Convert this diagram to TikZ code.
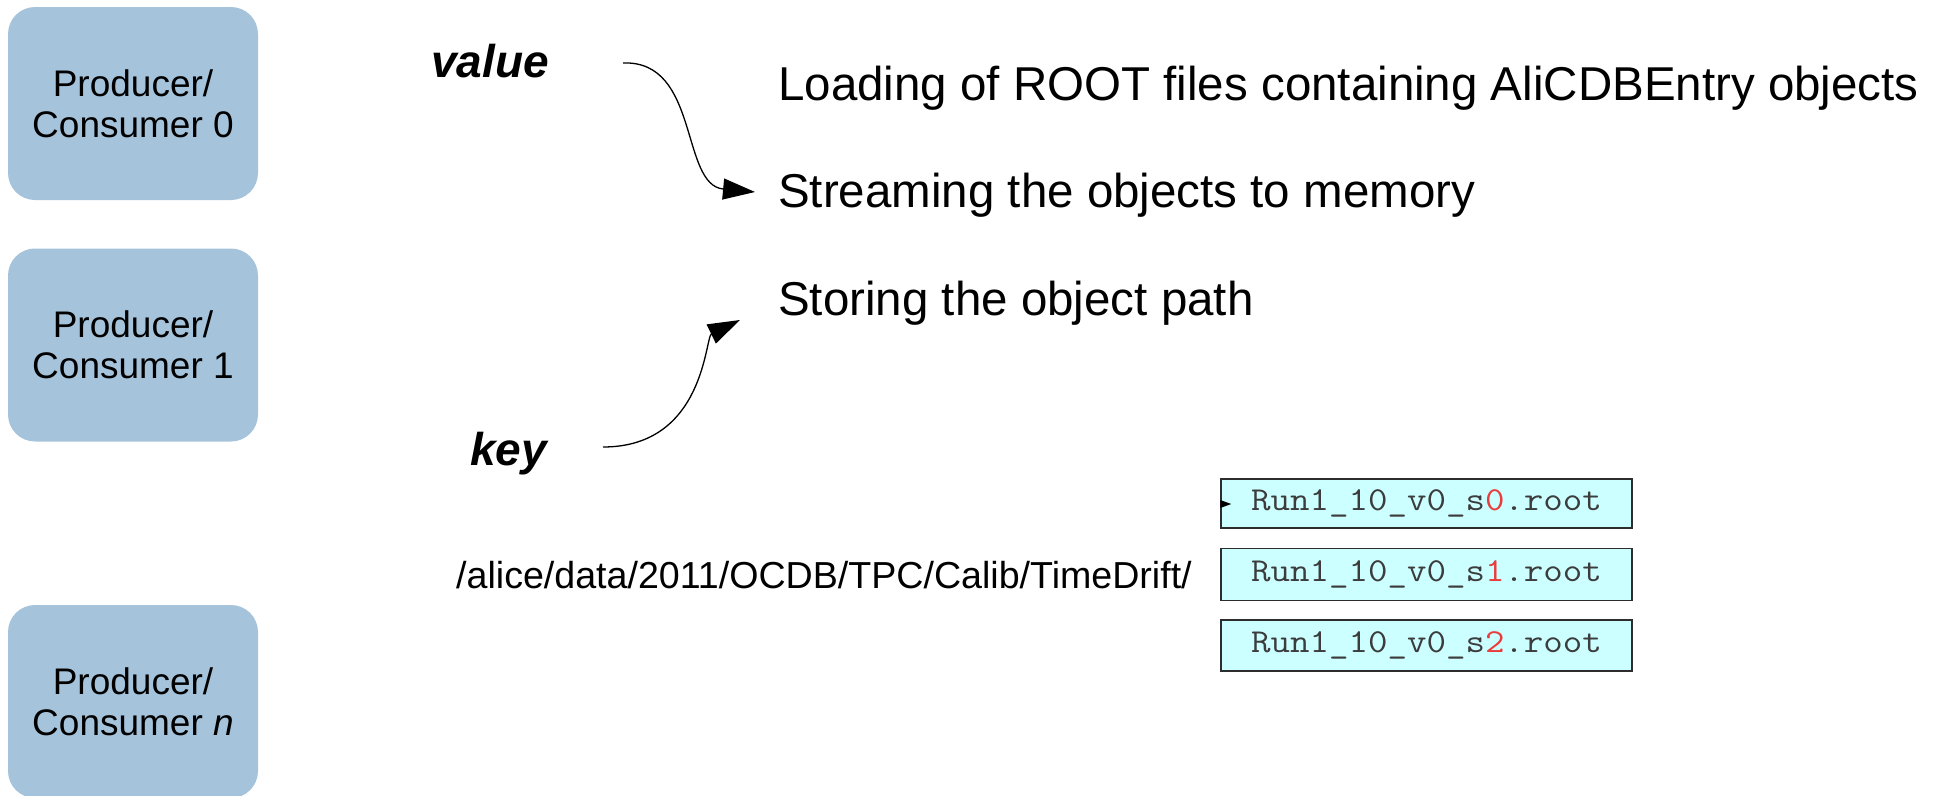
\documentclass[tikz,border=0pt]{standalone}
\usepackage{fontspec}
\setmainfont{Liberation Sans}
\usetikzlibrary{arrows.meta}
\definecolor{pcblue}{RGB}{165,195,219}
\definecolor{filecyan}{RGB}{204,255,255}
\definecolor{fileline}{RGB}{45,45,45}
\definecolor{filetext}{RGB}{60,60,60}
\definecolor{digitred}{RGB}{235,60,60}
\begin{document}
\begin{tikzpicture}[x=1pt,y=-1pt,
  pcbox/.style={rectangle, rounded corners=27pt, fill=pcblue,
    minimum width=250pt, minimum height=193pt, inner sep=0pt,
    align=center, font=\fontsize{37}{41}\selectfont},
  steptext/.style={anchor=base west, inner sep=0pt,
    font=\fontsize{47.5}{57}\selectfont},
  kvtext/.style={anchor=base west, inner sep=0pt,
    font=\fontsize{46}{55}\selectfont\bfseries\itshape},
  pathtext/.style={anchor=base west, inner sep=0pt,
    font=\fontsize{37.6}{44}\selectfont},
  filebox/.style={draw=fileline, line width=1.5pt, fill=filecyan,
    minimum width=411pt, inner sep=0pt, text=filetext,
    font=\fontsize{33.5}{40}\selectfont\ttfamily},
  flow/.style={line width=1.3pt, -{Triangle[length=32pt,width=21pt]}}
]
\useasboundingbox (0,0) rectangle (1946,795);

% producer / consumer processes
\node[pcbox] (pc0) at (133,103.5) {Producer/\\Consumer 0};
\node[pcbox] (pc1) at (133,345) {Producer/\\Consumer 1};
\node[pcbox] (pcn) at (133,701.5) {Producer/\\Consumer \textit{n}};

% key / value labels
\node[kvtext] (value) at (431,77) {value};
\node[kvtext] (key) at (470,465) {key};

% processing steps
\node[steptext] (load) at (778,100) {Loading of ROOT files containing AliCDBEntry objects};
\node[steptext] (stream) at (778,207) {Streaming the objects to memory};
\node[steptext] (store) at (778,315) {Storing the object path};

% storage path and files
\node[pathtext] (path) at (456,588) {/alice/data/2011/OCDB/TPC/Calib/TimeDrift/};
\node[filebox, minimum height=49pt] (f0) at (1426.5,503.5)
  {\scalebox{1.13}[1]{Run1\_10\_v0\_s\textcolor{digitred}{0}.root}};
\node[filebox, minimum height=52pt] (f1) at (1426.5,574.5)
  {\scalebox{1.13}[1]{Run1\_10\_v0\_s\textcolor{digitred}{1}.root}};
\node[filebox, minimum height=51pt] (f2) at (1426.5,645.5)
  {\scalebox{1.13}[1]{Run1\_10\_v0\_s\textcolor{digitred}{2}.root}};

% small pointer on the first file
\fill[black] ([yshift=3.5pt]f0.west) -- ++(11,4) -- ++(-11,4) -- cycle;

% value and key flows
\coordinate (vstart) at (623,63);
\coordinate (vtip) at (755,192);
\coordinate (kstart) at (603,447);
\coordinate (ktip) at (740,320);
\draw[flow] (vstart) .. controls (700,60) and (680,185) .. (vtip);
\draw[flow] (kstart) .. controls (705,447) and (705,337) .. (ktip);
\end{tikzpicture}
\end{document}
